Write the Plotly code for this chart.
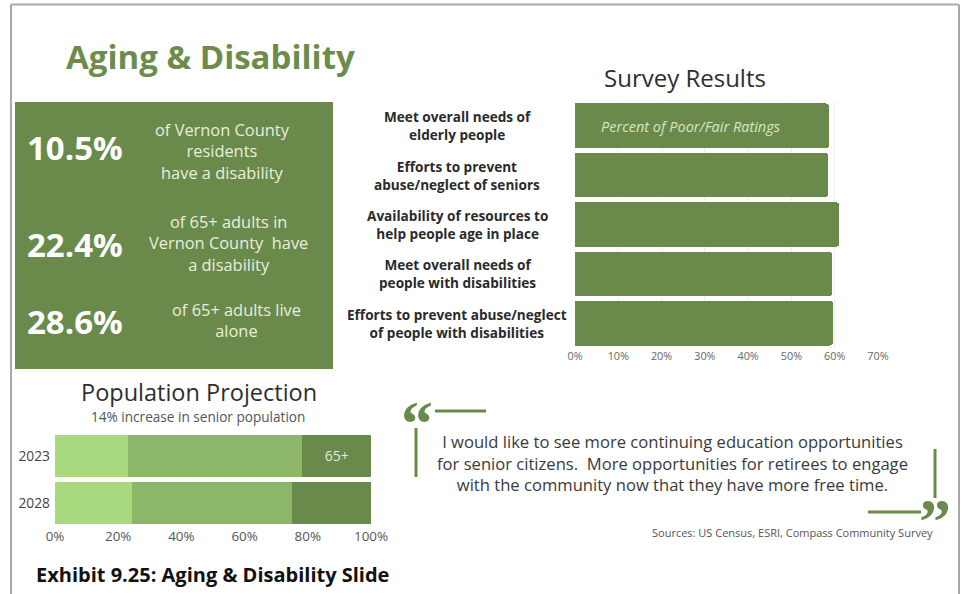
import plotly.graph_objects as go

W, H = 963, 594

GREEN = "#6a8a4b"
GREEN_MID = "#8cb769"
GREEN_LIGHT = "#a8d97f"
DARK = "#333333"

# survey results (percent of poor/fair ratings)
survey_items = [
    "Meet overall needs of<br>elderly people",
    "Efforts to prevent<br>abuse/neglect of seniors",
    "Availability of resources to<br>help people age in place",
    "Meet overall needs of<br>people with disabilities",
    "Efforts to prevent abuse/neglect<br>of people with disabilities",
]
survey_pct = [58.7, 58.4, 61.0, 59.4, 59.6]
survey_ticks = [0, 10, 20, 30, 40, 50, 60, 70]

# population projection (share of population by age group)
pop_years = ["2023", "2028"]
pop_young = [23.2, 24.3]
pop_adult = [55.1, 50.8]
pop_senior = [21.7, 24.9]
pop_ticks = [0, 20, 40, 60, 80, 100]

# headline stats
stat_values = ["10.5%", "22.4%", "28.6%"]
stat_texts = [
    "of Vernon County<br>residents<br>have a disability",
    "of 65+ adults in<br>Vernon County  have<br>a disability",
    "of 65+ adults live<br>alone",
]
stat_rows = [147, 244, 321]
stat_text_x = [222, 228, 236]
stat_text_y = [151, 243, 320]

quote = ("I would like to see more continuing education opportunities<br>"
         "for senior citizens.  More opportunities for retirees to engage<br>"
         "with the community now that they have more free time.")


def px(x):
    return x / W


def py(y):
    return 1 - y / H


fig = go.Figure()

fig.add_trace(go.Bar(
    x=survey_pct, y=survey_items, orientation="h",
    marker=dict(color=GREEN, line=dict(width=0), cornerradius=3),
    width=0.9, xaxis="x", yaxis="y", hoverinfo="x+y",
))

for vals, col, txt in [(pop_young, GREEN_LIGHT, ["", ""]),
                       (pop_adult, GREEN_MID, ["", ""]),
                       (pop_senior, GREEN, ["65+", ""])]:
    fig.add_trace(go.Bar(
        x=vals, y=pop_years, orientation="h",
        marker=dict(color=col, line=dict(width=0)),
        width=0.88, xaxis="x2", yaxis="y2",
        text=txt, textposition="inside", insidetextanchor="middle",
        textfont=dict(color="#e4ecd8", size=14, family="Open Sans"),
    ))

shapes = []
# slide border
for x0, y0, x1, y1 in [(11, 4.5, 959, 4.5), (11, 4.5, 11, 594), (959, 4.5, 959, 594)]:
    shapes.append(dict(type="line", xref="paper", yref="paper",
                       x0=px(x0), y0=py(y0), x1=px(x1), y1=py(y1),
                       line=dict(color="#a8a8a8", width=2)))
# green stats box
shapes.append(dict(type="rect", xref="paper", yref="paper",
                   x0=px(15), y0=py(102), x1=px(333), y1=py(369),
                   fillcolor=GREEN, line=dict(width=0), layer="below"))
# quote decorations
for x0, y0, x1, y1 in [(435, 411, 486, 411), (416, 428, 416, 477),
                       (935, 449, 935, 498), (868, 512, 921, 512)]:
    shapes.append(dict(type="line", xref="paper", yref="paper",
                       x0=px(x0), y0=py(y0), x1=px(x1), y1=py(y1),
                       line=dict(color=GREEN, width=3)))

ann = []


def text(x, y, s, size, color=DARK, family="Open Sans", xanchor="center", **kw):
    ann.append(dict(x=px(x), y=py(y), xref="paper", yref="paper", text=s,
                    showarrow=False, xanchor=xanchor, yanchor="middle",
                    font=dict(size=size, color=color, family=family), **kw))


text(210, 56, "<b>Aging & Disability</b>", 33, color="#6c8d4a")
for v, yy in zip(stat_values, stat_rows):
    text(75, yy, "<b>" + v + "</b>", 33, color="#ffffff")
for s, xx, yy in zip(stat_texts, stat_text_x, stat_text_y):
    text(xx, yy, s, 16.4, color="#e8eedc", align="center")

text(685, 77, "Survey Results", 24, color="#2e2e2e")
text(690, 126, "<i>Percent of Poor/Fair Ratings</i>", 14.5, color="#d6e6c4")
for item in survey_items:
    ann.append(dict(x=px(457), y=item, xref="paper", yref="y", text="<b>" + item + "</b>",
                    showarrow=False, xanchor="center", yanchor="middle", align="center",
                    font=dict(size=13.6, color="#2a2a2a", family="Open Sans")))

text(199, 392, "Population Projection", 23.5, color="#2e2e2e")
text(198, 416, "14% increase in senior population", 13.6, color="#555555")

text(417, 423, "<b>“</b>", 64, color=GREEN, family="Liberation Serif")
text(935, 521, "<b>”</b>", 64, color=GREEN, family="Liberation Serif")
text(672, 463, quote, 16.6, color="#3a3a3a", align="center")
text(935, 532, "Sources: US Census, ESRI, Compass Community Survey", 11,
     color="#555555", xanchor="right")

text(34, 574, "<b>Exhibit 9.25: Aging & Disability Slide</b>", 20, color="#111111",
     xanchor="left")

fig.update_layout(
    width=W, height=H,
    margin=dict(l=0, r=0, t=0, b=0, autoexpand=False),
    paper_bgcolor="white", plot_bgcolor="white",
    showlegend=False, barmode="stack",
    xaxis=dict(domain=[px(575), px(878)], range=[0, 70], tickmode="array",
               tickvals=survey_ticks, ticktext=[f"{v}%" for v in survey_ticks],
               showgrid=True, gridcolor="#eeeeee", zeroline=False, automargin=False,
               tickfont=dict(size=10.8, color="#666666", family="Open Sans"),
               anchor="y", fixedrange=True),
    yaxis=dict(domain=[py(348), py(101)], autorange="reversed", showticklabels=False,
               showgrid=False, zeroline=False, automargin=False, anchor="x",
               fixedrange=True),
    xaxis2=dict(domain=[px(55), px(371)], range=[0, 100], tickmode="array",
                tickvals=pop_ticks, ticktext=[f"{v}%" for v in pop_ticks],
                showgrid=False, zeroline=False, automargin=False,
                tickfont=dict(size=13.4, color="#555555", family="Open Sans"),
                anchor="y2", fixedrange=True),
    yaxis2=dict(domain=[py(527), py(432)], autorange="reversed", showgrid=False,
                zeroline=False, ticks="", ticklabelstandoff=4, automargin=False,
                tickfont=dict(size=13.8, color="#444444", family="Open Sans"),
                anchor="x2", fixedrange=True),
    shapes=shapes, annotations=ann,
)

fig.write_html("out.html", config={"displayModeBar": False},
               post_script="document.body.style.margin='0px';"
                           "document.body.style.overflow='hidden';")
